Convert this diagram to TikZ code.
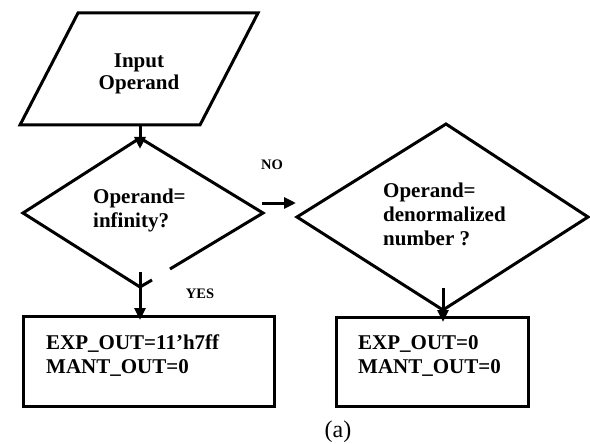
\documentclass[tikz,border=0pt]{standalone}
\usepackage{fontspec}
\setmainfont{Liberation Serif}
\usetikzlibrary{arrows.meta}
\begin{document}
\begin{tikzpicture}[x=1pt,y=-1pt,
  shape line/.style={line width=3pt,line join=miter},
  flow/.style={line width=3pt,-{Triangle[length=12pt,width=11pt]}},
  bigtext/.style={font=\bfseries\fontsize{21}{24}\selectfont,inner sep=0pt,align=left},
  smalltext/.style={font=\bfseries\fontsize{14.5}{16}\selectfont,inner sep=0pt}]
\useasboundingbox (0,0) rectangle (590,444);

% input parallelogram (node base = baseline of its last line)
\draw[shape line] (78,13) -- (258,13) -- (200,125) -- (20,125) -- cycle;
\node[font=\bfseries\fontsize{21}{22}\selectfont,inner sep=0pt,align=center,anchor=base] (input) at (139,90) {Input\\Operand};

% first decision, lower right edge left open
\draw[shape line] (170,269) -- (263,213) -- (140,138) -- (23,213) -- (140,287) -- (152,280);
\node[bigtext,anchor=base west] (q1) at (93,227) {Operand=\\infinity?};

% second decision
\draw[shape line] (297,217) -- (446,124) -- (588,217) -- (443,310) -- cycle;
\node[bigtext,anchor=base west] (q2) at (383,245) {Operand=\\denormalized\\number ?};

% result boxes
\draw[shape line] (23,316) rectangle (274,406);
\node[bigtext,anchor=base west] (r1) at (46,373) {EXP\_OUT=11’h7ff\\MANT\_OUT=0};
\draw[shape line] (336,317) rectangle (528,406);
\node[bigtext,anchor=base west] (r2) at (358,373) {EXP\_OUT=0\\MANT\_OUT=0};

% connector end points
\coordinate (inB) at (140,125);
\coordinate (q1T) at (140,149);
\coordinate (noS) at (262,203);
\coordinate (noE) at (296,203);
\coordinate (yesS) at (140,272);
\coordinate (r1T) at (140,320);
\coordinate (q2B) at (443,288);
\coordinate (r2T) at (443,322);

\draw[flow] (inB) -- (q1T);
\draw[flow] (noS) -- (noE);
\draw[flow] (yesS) -- (r1T);
\draw[flow] (q2B) -- (r2T);

\node[smalltext,anchor=base] (no) at (272,170) {NO};
\node[smalltext,anchor=base] (yes) at (200,298) {YES};

\node[font=\fontsize{24}{26}\selectfont,inner sep=0pt,anchor=base] (cap) at (338,437) {(a)};
\end{tikzpicture}
\end{document}
